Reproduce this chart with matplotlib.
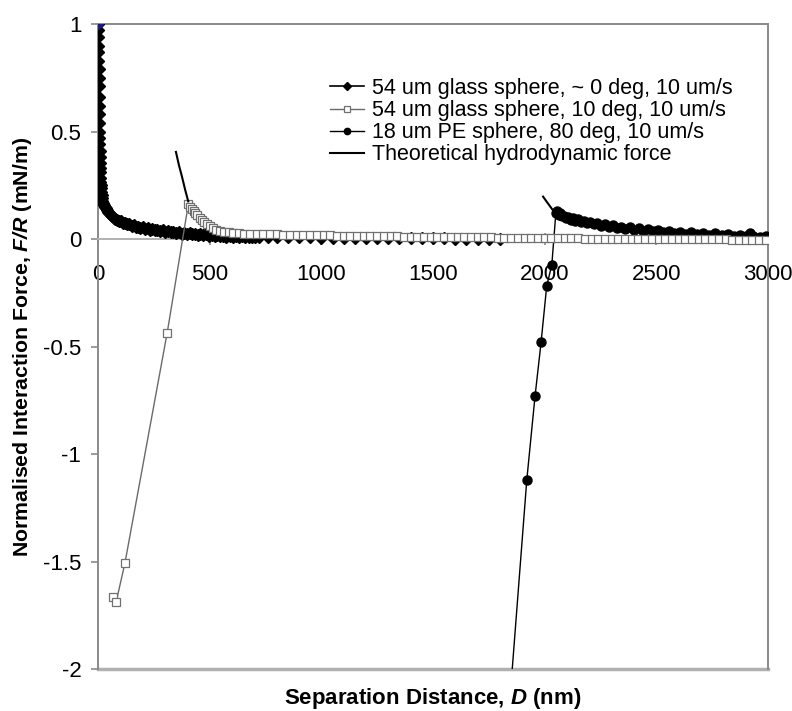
import numpy as np
import matplotlib
matplotlib.use("Agg")
import matplotlib.pyplot as plt

plt.rcParams['font.family'] = ['Liberation Sans', 'DejaVu Sans']
plt.rcParams['mathtext.fontset'] = 'custom'
plt.rcParams['mathtext.bf'] = 'Liberation Sans:bold'
plt.rcParams['mathtext.it'] = 'Liberation Sans:italic'
plt.rcParams['mathtext.bfit'] = 'Liberation Sans:bold:italic'

# 54 um glass sphere, ~0 deg
glass0_x = [0, 0.4, 0.8, 1.2, 1.6, 2.0, 2.4, 2.8, 3.2, 3.6,
            4.0, 4.5, 5.0, 5.5, 6.0, 6.5, 7.0, 7.5, 8.0, 8.5,
            9.0, 10, 11, 12, 13, 14.5, 16, 18, 20, 23,
            26, 30, 34, 39, 44, 50, 56, 63, 70, 78,
            86, 95, 104, 113, 122, 131, 140, 150, 160, 170,
            180, 190, 200, 211, 222, 233, 244, 255, 266, 278,
            290, 302, 314, 326, 338, 350, 362, 374, 386, 398,
            410, 422, 434, 446, 458, 470, 483, 496, 509, 522,
            535, 548, 561, 575, 589, 603, 617, 631, 645, 660,
            675, 690, 705, 720, 760, 800, 850, 900, 950, 1000,
            1050, 1100, 1150, 1200, 1250, 1300, 1350, 1400, 1450, 1500,
            1550, 1600, 1650, 1700, 1750, 1800]
glass0_y = [1.00, 0.97, 0.94, 0.90, 0.87, 0.83, 0.79, 0.75, 0.71, 0.66,
            0.62, 0.58, 0.54, 0.50, 0.47, 0.44, 0.41, 0.38, 0.355, 0.33,
            0.31, 0.285, 0.265, 0.25, 0.235, 0.22, 0.205, 0.19, 0.178, 0.167,
            0.158, 0.15, 0.142, 0.134, 0.127, 0.119, 0.112, 0.105, 0.099, 0.093,
            0.088, 0.083, 0.082, 0.075, 0.074, 0.068, 0.069, 0.062, 0.063, 0.057,
            0.058, 0.052, 0.054, 0.048, 0.050, 0.044, 0.047, 0.041, 0.043, 0.037,
            0.040, 0.034, 0.037, 0.031, 0.034, 0.028, 0.031, 0.025, 0.029, 0.023,
            0.027, 0.021, 0.025, 0.019, 0.023, 0.017, 0.021, 0.015, 0.019, 0.013,
            0.017, 0.012, 0.016, 0.011, 0.014, 0.010, 0.013, 0.009, 0.012, 0.008,
            0.011, 0.008, 0.010, 0.007, 0.009, 0.009, 0.008, 0.007, 0.007, 0.006,
            0.006, 0.005, 0.005, 0.005, 0.004, 0.004, 0.004, 0.003, 0.003, 0.003,
            0.003, 0.002, 0.002, 0.002, 0.002, 0.002]

# 54 um glass sphere, 10 deg
glass10_x = [69, 81, 121, 310, 405, 412, 420, 428, 436, 445,
             455, 465, 476, 488, 500, 515, 530, 548, 566, 585,
             605, 630, 655, 680, 710, 740, 770, 800,
             830, 860, 890, 920, 950, 980, 1010, 1040, 1070, 1100,
             1130, 1160, 1190, 1220, 1250, 1280, 1310, 1340, 1370, 1400,
             1430, 1460, 1490, 1520, 1550, 1580, 1610, 1640, 1670, 1700,
             1730, 1760, 1790, 1820, 1850, 1880, 1910, 1940, 1970, 2000,
             2030, 2060, 2090, 2120, 2150, 2180, 2210, 2240, 2270, 2300,
             2330, 2360, 2390, 2420, 2450, 2480, 2510, 2540, 2570, 2600,
             2630, 2660, 2690, 2720, 2750, 2780, 2810, 2840, 2870, 2900,
             2930, 2960, 2990]
glass10_y = [-1.665, -1.69, -1.505, -0.435, 0.165, 0.15, 0.14, 0.13, 0.12, 0.11,
             0.10, 0.09, 0.08, 0.07, 0.06, 0.05, 0.043, 0.038, 0.034, 0.031,
             0.028, 0.026, 0.025, 0.024, 0.023, 0.022, 0.021, 0.021,
             0.020, 0.020, 0.019, 0.019, 0.018, 0.018, 0.017, 0.017, 0.016, 0.016,
             0.015, 0.015, 0.014, 0.014, 0.013, 0.013, 0.012, 0.012, 0.011, 0.011,
             0.010, 0.010, 0.010, 0.009, 0.009, 0.009, 0.008, 0.008, 0.008, 0.007,
             0.007, 0.007, 0.006, 0.006, 0.006, 0.005, 0.005, 0.005, 0.004, 0.004,
             0.004, 0.003, 0.003, 0.003, 0.003, 0.002, 0.002, 0.002, 0.002, 0.001,
             0.001, 0.001, 0.001, 0.000, 0.000, 0.000, 0.000, -0.001, -0.001, -0.001,
             -0.001, -0.001, -0.002, -0.002, -0.002, -0.002, -0.002, -0.003, -0.003, -0.003,
             -0.003, -0.003, -0.003]

# 18 um PE sphere, 80 deg
pe_x = [1840, 1920, 1957, 1984, 2009, 2032,
        2050, 2056, 2062, 2070, 2078, 2087, 2096, 2106, 2116, 2127,
        2138, 2150, 2163, 2176, 2190, 2205, 2220, 2236, 2252, 2269,
        2286, 2304, 2322, 2341, 2360, 2380, 2400, 2421, 2442, 2464,
        2486, 2509, 2532, 2556, 2580, 2605, 2630, 2656, 2682, 2709,
        2736, 2764, 2792, 2820, 2848, 2876, 2900, 2920, 2935, 2950,
        2965, 2980, 2990, 3000]
pe_y = [-2.2, -1.12, -0.73, -0.48, -0.22, -0.12,
        0.12, 0.13, 0.112, 0.122, 0.105, 0.108, 0.096, 0.102, 0.09, 0.096,
        0.085, 0.092, 0.08, 0.086, 0.074, 0.081, 0.068, 0.075, 0.062, 0.069,
        0.057, 0.064, 0.052, 0.058, 0.047, 0.054, 0.043, 0.049, 0.039, 0.045,
        0.035, 0.041, 0.031, 0.037, 0.028, 0.034, 0.025, 0.031, 0.023, 0.028,
        0.020, 0.026, 0.018, 0.023, 0.014, 0.020, 0.012, 0.028, 0.012, 0.002,
        0.008, 0.003, 0.014, 0.01]

# theoretical hydrodynamic force
theory1_x = [349, 362, 376, 390, 404]
theory1_y = [0.405, 0.345, 0.29, 0.23, 0.175]
theory2_x = [1993, 2008, 2022, 2036, 2050]
theory2_y = [0.197, 0.175, 0.155, 0.135, 0.12]

xticks = [0, 500, 1000, 1500, 2000, 2500, 3000]
yticks = [-2, -1.5, -1, -0.5, 0, 0.5, 1]
ytick_labels = ['-2', '-1.5', '-1', '-0.5', '0', '0.5', '1']

frame = '#8a8a8a'

fig = plt.figure(figsize=(7.92, 7.11), dpi=100)
ax = fig.add_axes([98/792, 1 - 669/711, 670/792, 645/711])

ax.plot(glass0_x, glass0_y, color='black', lw=1.2, marker='D', ms=5.8,
        mfc='black', mec='black', label='54 um glass sphere, ~ 0 deg, 10 um/s', zorder=3)
ax.plot(glass0_x[0], glass0_y[0], marker='D', ms=5.5, color='#1a1a8c', zorder=6)
ax.plot(glass10_x, glass10_y, color='#6a6a6a', lw=1, marker='s', ms=6,
        mfc='white', mec='#707070', mew=0.9, label='54 um glass sphere, 10 deg, 10 um/s', zorder=4)
ax.plot(pe_x, pe_y, color='black', lw=1, marker='o', ms=6.5,
        mfc='black', mec='black', label='18 um PE sphere, 80 deg, 10 um/s', zorder=3)
ax.plot(theory1_x, theory1_y, color='black', lw=1.5, label='Theoretical hydrodynamic force', zorder=5)
ax.plot(theory2_x, theory2_y, color='black', lw=1.5, zorder=5)

ax.set_xlim(0, 3000)
ax.set_ylim(-2, 1)
ax.set_xticks(xticks)
ax.set_xticklabels([str(t) for t in xticks])
ax.set_yticks(yticks)
ax.set_yticklabels(ytick_labels)

for side in ['top', 'right', 'left']:
    ax.spines[side].set_color(frame)
    ax.spines[side].set_linewidth(1.4)
ax.spines['bottom'].set_position(('data', 0))
ax.spines['bottom'].set_color('#b0b0b0')
ax.spines['bottom'].set_linewidth(1.4)
ax.axhline(-2, color='#b0b0b0', lw=2.5, clip_on=False, zorder=1)

ax.tick_params(axis='x', direction='inout', length=8, width=1.2, color=frame,
               labelsize=16, pad=14)
ax.tick_params(axis='y', direction='out', length=5, width=1.2, color=frame,
               labelsize=16, pad=7)

ax.set_xlabel(r'Separation Distance, $\mathbfit{D}$ (nm)', fontsize=16, fontweight='bold')
ax.set_ylabel(r'Normalised Interaction Force, $\mathbfit{F/R}$ (mN/m)', fontsize=15.3,
              fontweight='bold')
ax.xaxis.set_label_coords(0.5, -0.027)
ax.yaxis.set_label_coords(-0.095, 0.5)

ax.legend(loc='upper left', bbox_to_anchor=(330/792, 1 - 78/711),
          bbox_transform=fig.transFigure, frameon=False, fontsize=15.5,
          handlelength=1.6, handletextpad=0.33, labelspacing=0.05,
          borderpad=0, borderaxespad=0, markerscale=0.7)

fig.savefig('out.png', dpi=100)
